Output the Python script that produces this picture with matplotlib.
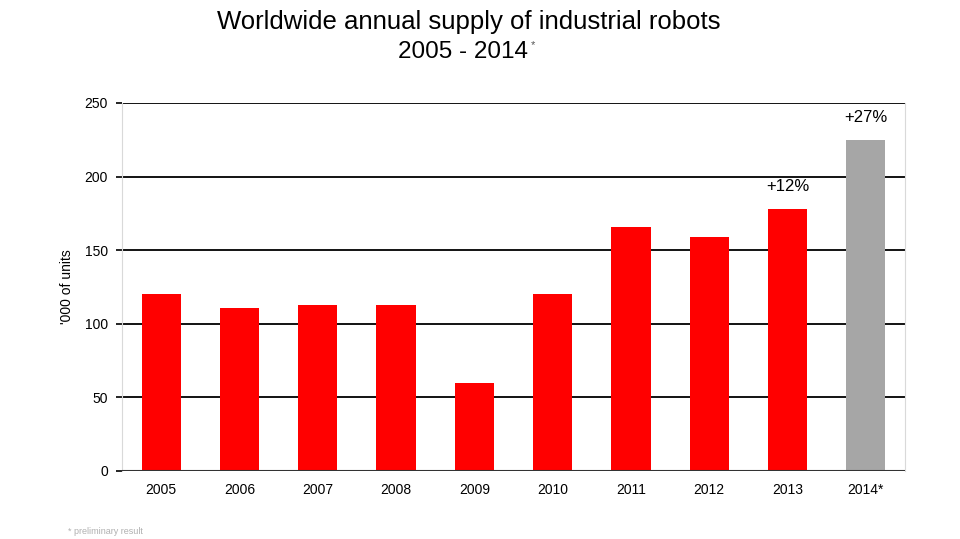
import matplotlib
matplotlib.use("Agg")
import matplotlib.pyplot as plt

plt.rcParams['font.family'] = ['Liberation Sans', 'DejaVu Sans']

years = ["2005", "2006", "2007", "2008", "2009", "2010", "2011", "2012", "2013", "2014*"]
units = [120, 111, 113, 113, 60, 120, 166, 159, 178, 225]
colors = ["#ff0000"] * 9 + ["#a6a6a6"]
annot_idx = [8, 9]
annot_txt = ["+12%", "+27%"]
yticks = [0, 50, 100, 150, 200, 250]

fig = plt.figure(figsize=(9.6, 5.39), dpi=100)
ax = fig.add_axes([122/960, 1 - 471/539, (905-122)/960, (471-103)/539])

x = list(range(len(years)))
ax.bar(x, units, width=0.5, color=colors, zorder=3)
ax.set_xlim(-0.5, len(years) - 0.5)
ax.set_ylim(0, 250)
ax.set_yticks(yticks)
ax.set_xticks(x)
ax.set_xticklabels(years, fontsize=10)
ax.tick_params(axis='y', labelsize=10, length=4, width=1.2, color='black', pad=6)
ax.tick_params(axis='x', length=0, pad=9)
for yv in yticks[1:]:
    ax.axhline(yv, color='black', lw=1.3, zorder=1)
ax.axhline(0, color='#333333', lw=1.5, zorder=4)
for s in ['left', 'right', 'top']:
    ax.spines[s].set_color('#d9d9d9')
    ax.spines[s].set_linewidth(0.8)
ax.spines['top'].set_visible(False)
ax.spines['bottom'].set_visible(False)
ax.set_ylabel("'000 of units", fontsize=10, labelpad=8)

for i, t in zip(annot_idx, annot_txt):
    ax.text(i, units[i] + 10, t, ha='center', va='bottom', fontsize=12)

fig.text(469/960, 1 - 22/539, "Worldwide annual supply of industrial robots", ha='center', va='center', fontsize=18.5)
fig.text(463/960, 1 - 52/539, "2005 - 2014", ha='center', va='center', fontsize=17.5)
fig.text(531/960, 1 - 45/539, "*", ha='left', va='center', fontsize=8, color='#555555')
fig.text(68/960, 1 - 532/539, "* preliminary result", ha='left', va='center', fontsize=6.5, color='#b0b0b0')

fig.savefig("out.png", dpi=100)
